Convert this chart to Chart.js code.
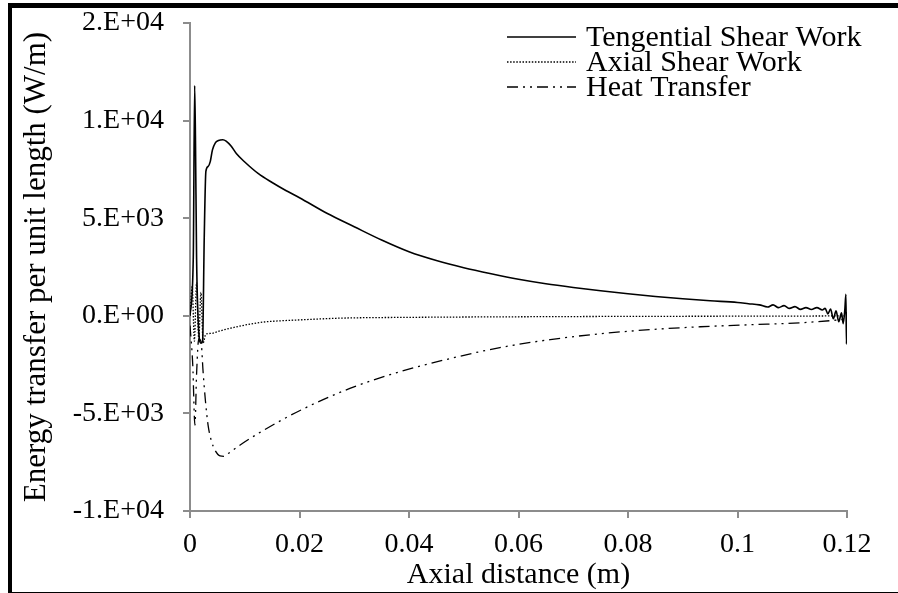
<!DOCTYPE html>
<html><head><meta charset="utf-8">
<script src="https://cdn.jsdelivr.net/npm/chart.js@4/dist/chart.umd.min.js"></script>
<style>
html,body{margin:0;padding:0;background:#fff;}
#wrap{position:relative;width:898px;height:593px;overflow:hidden;}
#frame{position:absolute;left:8px;top:3px;width:892px;height:590px;box-sizing:border-box;border-left:4px solid #000;border-top:5px solid #000;border-bottom:1px solid #000;pointer-events:none;}
canvas{position:absolute;left:0;top:0;}
</style></head><body>
<div id="wrap"><canvas id="c" width="898" height="593"></canvas><div id="frame"></div></div>
<script>
// ---- data ----
const seriesNames = ["Tengential Shear Work", "Axial Shear Work", "Heat Transfer"];

const tangX = [0, 0.0006, 0.00085, 0.001, 0.0012, 0.0016, 0.002, 0.0023, 0.0026, 0.0029, 0.0033, 0.0037, 0.0041, 0.0046, 0.0052, 0.006, 0.0066, 0.0075, 0.0085, 0.01, 0.0125, 0.015, 0.0175, 0.02, 0.025, 0.03, 0.035, 0.04, 0.045, 0.05, 0.055, 0.06, 0.065, 0.07, 0.075, 0.08, 0.085, 0.09, 0.095, 0.1, 0.102, 0.104, 0.1055, 0.1065, 0.1075, 0.1085, 0.1095, 0.1105, 0.1115, 0.1125, 0.1135, 0.1145, 0.1155, 0.116, 0.1165, 0.117, 0.1175, 0.118, 0.1185, 0.119, 0.1193, 0.1196, 0.1198, 0.1199, 0.12];
const tangY = [0, 3000, 11800, 9000, 3000, -800, -1400, -1300, 4000, 7400, 7650, 7900, 8500, 8850, 8980, 9020, 8950, 8700, 8300, 7880, 7280, 6830, 6420, 6050, 5250, 4560, 3880, 3280, 2830, 2460, 2150, 1870, 1640, 1450, 1280, 1130, 990, 870, 770, 680, 620, 560, 450, 560, 420, 520, 380, 470, 330, 420, 320, 420, 300, 380, 100, 350, -150, 250, -300, 150, -400, 300, 1100, -1450, 200];

const axialX = [0, 0.0004, 0.0008, 0.0012, 0.0016, 0.002, 0.0024, 0.0028, 0.003, 0.004, 0.0055, 0.0091, 0.0128, 0.0146, 0.02, 0.0275, 0.04, 0.06, 0.08, 0.1, 0.115, 0.12];
const axialY = [0, 1500, -1300, 1700, -1200, 1200, -1400, -1000, -930, -900, -770, -530, -340, -290, -210, -120, -80, -50, -30, -20, -10, 0];

const heatX = [0, 0.0005, 0.0009, 0.0012, 0.0016, 0.002, 0.0024, 0.0028, 0.0033, 0.0039, 0.0046, 0.0055, 0.0062, 0.007, 0.0091, 0.0128, 0.0201, 0.0292, 0.0384, 0.0475, 0.0566, 0.0658, 0.0749, 0.084, 0.0932, 0.1023, 0.1114, 0.1187, 0.12];
const heatY = [-500, -2500, -5600, -3000, -1200, -1300, -2900, -4300, -5600, -6400, -6900, -7180, -7200, -7050, -6630, -5970, -4850, -3720, -2860, -2190, -1630, -1220, -920, -710, -560, -460, -360, -200, -150];

const xTickValues = [0, 0.02, 0.04, 0.06, 0.08, 0.1, 0.12];
const xTickLabels = ["0", "0.02", "0.04", "0.06", "0.08", "0.1", "0.12"];
const yTickValues = [-10000, -5000, 0, 5000, 10000, 15000];
const yTickLabels = ["-1.E+04", "-5.E+03", "0.E+00", "5.E+03", "1.E+04", "2.E+04"];

const xTitle = "Axial distance (m)";
const yTitle = "Energy transfer per unit length (W/m)";

// ---- chart ----
const FONT = '"Liberation Serif", "Times New Roman", serif';
const toPts = (xs, ys) => xs.map((x, i) => ({x: x, y: ys[i]}));
const AXIS_GRAY = '#8c8c8c';

const legendPlugin = {
  id: 'customLegend',
  afterDraw(chart) {
    const ctx = chart.ctx;
    ctx.save();
    chart.data.datasets.forEach((ds, i) => {
      const y = 37 + i * 25;
      ctx.beginPath();
      ctx.setLineDash(ds.borderDash || []);
      ctx.lineWidth = ds.borderWidth;
      ctx.strokeStyle = ds.borderColor;
      ctx.moveTo(507, y);
      ctx.lineTo(576, y);
      ctx.stroke();
      ctx.setLineDash([]);
      ctx.fillStyle = '#000';
      ctx.font = '30px ' + FONT;
      ctx.textBaseline = 'middle';
      ctx.textAlign = 'left';
      ctx.fillText(ds.label, 586, y + 1);
    });
    ctx.restore();
  }
};

const noPad = s => { s.paddingTop = 0; s.paddingBottom = 0; s.paddingLeft = 0; s.paddingRight = 0; };

new Chart(document.getElementById('c'), {
  type: 'line',
  data: {
    datasets: [
      {label: seriesNames[0], data: toPts(tangX, tangY), borderColor: '#000', borderWidth: 1.6, borderDash: [], pointRadius: 0, cubicInterpolationMode: 'monotone', fill: false},
      {label: seriesNames[1], data: toPts(axialX, axialY), borderColor: '#000', borderWidth: 1.3, borderDash: [1.5, 1.6], pointRadius: 0, cubicInterpolationMode: 'monotone', fill: false},
      {label: seriesNames[2], data: toPts(heatX, heatY), borderColor: '#000', borderWidth: 1.3, borderDash: [11, 5, 2, 5, 2, 5], pointRadius: 0, cubicInterpolationMode: 'monotone', fill: false}
    ]
  },
  options: {
    responsive: false,
    animation: false,
    devicePixelRatio: 1,
    layout: {padding: {left: 10, right: 51, top: 23, bottom: 0}},
    plugins: {legend: {display: false}, tooltip: {enabled: false}},
    scales: {
      x: {
        type: 'linear', min: 0, max: 0.12,
        afterBuildTicks: s => { s.ticks = xTickValues.map(v => ({value: v})); },
        afterFit: s => { s.height = 82; noPad(s); },
        ticks: {callback: (v, i) => xTickLabels[i], color: '#000', font: {family: FONT, size: 28}, padding: 10, maxRotation: 0, autoSkip: false},
        grid: {drawOnChartArea: false, drawTicks: true, tickLength: 7, color: AXIS_GRAY, lineWidth: 2},
        border: {display: true, color: AXIS_GRAY, width: 2},
        title: {display: true, text: xTitle, color: '#000', font: {family: FONT, size: 30}, padding: {top: 0, bottom: 0}}
      },
      y: {
        type: 'linear', min: -10000, max: 15000,
        afterBuildTicks: s => { s.ticks = yTickValues.map(v => ({value: v})); },
        afterFit: s => { s.width = 180; noPad(s); },
        ticks: {callback: (v, i) => yTickLabels[i], color: '#000', font: {family: FONT, size: 28}, padding: 19, autoSkip: false},
        grid: {drawOnChartArea: false, drawTicks: true, tickLength: 7, color: AXIS_GRAY, lineWidth: 2},
        border: {display: true, color: AXIS_GRAY, width: 2},
        title: {display: true, text: yTitle, color: '#000', font: {family: FONT, size: 31}, padding: {top: 8, bottom: 0}}
      }
    }
  },
  plugins: [legendPlugin]
});
</script>
</body></html>
